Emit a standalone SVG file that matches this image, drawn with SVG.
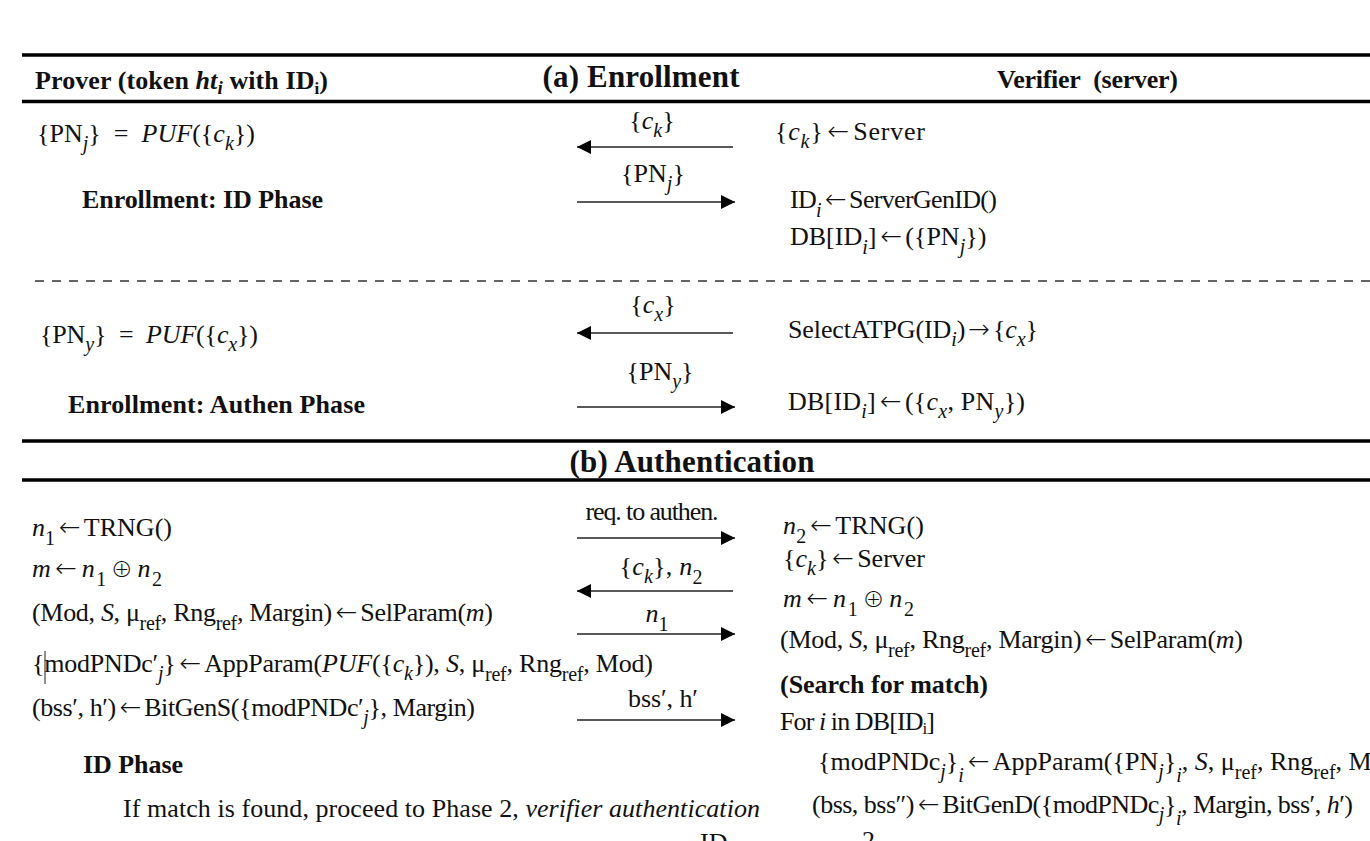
<svg xmlns="http://www.w3.org/2000/svg" width="1370" height="841" viewBox="0 0 1370 841">
  <style>
    .t { font-family: "Liberation Serif", "Times New Roman", "DejaVu Serif", serif; font-size: 26px; fill: #111; }
    .b { font-weight: bold; }
    .h { font-size: 31px; font-weight: bold; }
    .i { font-style: italic; }
    .s { font-size: 20px; }
    .op { font-family: "DejaVu Sans", sans-serif; font-weight: 200; font-style: normal; }
    .ox { font-family: "Noto Sans CJK JP", "DejaVu Sans", sans-serif; font-size: 22px; font-weight: 300; font-style: normal; }
    .rule { stroke: #000; stroke-width: 3.5; }
    .dash { stroke: #333; stroke-width: 1.5; stroke-dasharray: 9 8; }
    .msg { stroke: #222; stroke-width: 1.6; fill: none; marker-end: url(#ah); }
  </style>
  <defs>
    <marker id="ah" markerWidth="14" markerHeight="14" refX="14" refY="7" orient="auto" markerUnits="userSpaceOnUse">
      <path d="M0,0 L14,7 L0,14 z" fill="#000"/>
    </marker>
  </defs>
  <rect width="1370" height="841" fill="#fff"/>

  <!-- table rules -->
  <g id="rules">
    <line class="rule" x1="22" y1="55" x2="1370" y2="55"/>
    <line class="rule" x1="22" y1="101.5" x2="1370" y2="101.5"/>
    <line class="dash" x1="35" y1="281" x2="1370" y2="281"/>
    <line class="rule" x1="22" y1="441" x2="1370" y2="441"/>
    <line class="rule" x1="22" y1="480" x2="1370" y2="480"/>
  </g>

  <!-- column and section headings -->
  <g id="headings">
    <text class="t b" x="35" y="89" textLength="293">Prover (token <tspan class="i">ht</tspan><tspan class="i" font-size="19" dy="5">i</tspan><tspan dy="-5"> with ID</tspan><tspan font-size="17" dy="5">i</tspan><tspan dy="-5">)</tspan></text>
    <text class="t h" x="641" y="87" text-anchor="middle" textLength="197">(a) Enrollment</text>
    <text class="t b" x="997" y="88" textLength="181">Verifier&#160; (server)</text>
    <text class="t h" x="692" y="472" text-anchor="middle" textLength="245">(b) Authentication</text>
  </g>

  <!-- enrollment, ID phase: prover side -->
  <g id="enroll-id-prover">
    <text class="t" x="37" y="142" textLength="218">{PN<tspan class="s i" dy="8">j</tspan><tspan dy="-8">} &#160;= &#160;</tspan><tspan class="i">PUF</tspan>({<tspan class="i">c</tspan><tspan class="s i" dy="8">k</tspan><tspan dy="-8">})</tspan></text>
    <text class="t b" x="82" y="208" textLength="241">Enrollment: ID Phase</text>
  </g>

  <!-- enrollment, ID phase: verifier side -->
  <g id="enroll-id-verifier">
    <text class="t" x="775" y="140" textLength="150">{<tspan class="i">c</tspan><tspan class="s i" dy="8">k</tspan><tspan dy="-8">}</tspan><tspan class="op" dx="4">←</tspan><tspan dx="3">Server</tspan></text>
    <text class="t" x="790" y="208" textLength="207">ID<tspan class="s i" dy="9">i</tspan><tspan class="op" dy="-9" dx="4">←</tspan><tspan dx="3">ServerGenID()</tspan></text>
    <text class="t" x="790" y="245">DB[ID<tspan class="s i" dy="9">i</tspan><tspan dy="-9">]</tspan><tspan class="op" dx="4">←</tspan><tspan dx="3">({PN</tspan><tspan class="s i" dy="8">j</tspan><tspan dy="-8">})</tspan></text>
  </g>

  <!-- enrollment, authentication phase: prover side -->
  <g id="enroll-authen-prover">
    <text class="t" x="40" y="343" textLength="218">{PN<tspan class="s i" dy="8">y</tspan><tspan dy="-8">} &#160;= &#160;</tspan><tspan class="i">PUF</tspan>({<tspan class="i">c</tspan><tspan class="s i" dy="8">x</tspan><tspan dy="-8">})</tspan></text>
    <text class="t b" x="68" y="413" textLength="297">Enrollment: Authen Phase</text>
  </g>

  <!-- enrollment, authentication phase: verifier side -->
  <g id="enroll-authen-verifier">
    <text class="t" x="788" y="338" textLength="250">SelectATPG(ID<tspan class="s i" dy="8">i</tspan><tspan dy="-8">)</tspan><tspan class="op" dx="3">→</tspan><tspan dx="3">{</tspan><tspan class="i">c</tspan><tspan class="s i" dy="8">x</tspan><tspan dy="-8">}</tspan></text>
    <text class="t" x="788" y="410" textLength="237">DB[ID<tspan class="s i" dy="8">i</tspan><tspan dy="-8">]</tspan><tspan class="op" dx="4">←</tspan><tspan dx="3">({</tspan><tspan class="i">c</tspan><tspan class="s i" dy="8">x</tspan><tspan dy="-8">, PN</tspan><tspan class="s i" dy="8">y</tspan><tspan dy="-8">})</tspan></text>
  </g>

  <!-- authentication, ID phase: prover side -->
  <g id="auth-prover">
    <text class="t" x="32" y="536" textLength="140"><tspan class="i">n</tspan><tspan class="s" dy="9">1</tspan><tspan class="op" dy="-9" dx="4">←</tspan><tspan dx="3">TRNG()</tspan></text>
    <text class="t" x="32" y="577" textLength="130"><tspan class="i">m</tspan><tspan class="op" dx="3">←</tspan><tspan class="i" dx="3">n</tspan><tspan class="s" dy="9">1</tspan><tspan class="ox" dy="-9" dx="3">⊕</tspan><tspan class="i" dx="3">n</tspan><tspan class="s" dy="9">2</tspan></text>
    <text class="t" x="32" y="621" textLength="461">(Mod, <tspan class="i">S</tspan>, μ<tspan class="s" dy="9">ref</tspan><tspan dy="-9">, Rng</tspan><tspan class="s" dy="9">ref</tspan><tspan dy="-9">, Margin)</tspan><tspan class="op" dx="4">←</tspan><tspan dx="3">SelParam(</tspan><tspan class="i">m</tspan>)</text>
    <text class="t" x="32" y="672" textLength="621">{modPNDc′<tspan class="s i" dy="8">j</tspan><tspan dy="-8">}</tspan><tspan class="op" dx="4">←</tspan><tspan dx="3">AppParam(</tspan><tspan class="i">PUF</tspan>({<tspan class="i">c</tspan><tspan class="s i" dy="8">k</tspan><tspan dy="-8">}), </tspan><tspan class="i">S</tspan>, μ<tspan class="s" dy="9">ref</tspan><tspan dy="-9">, Rng</tspan><tspan class="s" dy="9">ref</tspan><tspan dy="-9">, Mod)</tspan></text>
    <line x1="45" y1="651" x2="45" y2="684" stroke="#222" stroke-width="1"/>
    <text class="t" x="32" y="716" textLength="443">(bss′, h′)<tspan class="op" dx="4">←</tspan><tspan dx="3">BitGenS({modPNDc′</tspan><tspan class="s i" dy="8">j</tspan><tspan dy="-8">}, Margin)</tspan></text>
    <text class="t b" x="83" y="773" textLength="100">ID Phase</text>
    <text class="t" x="123" y="817" textLength="637">If match is found, proceed to Phase 2, <tspan class="i">verifier authentication</tspan></text>
  </g>

  <!-- authentication, ID phase: verifier side -->
  <g id="auth-verifier">
    <text class="t" x="783" y="534" textLength="141"><tspan class="i">n</tspan><tspan class="s" dy="9">2</tspan><tspan class="op" dy="-9" dx="4">←</tspan><tspan dx="3">TRNG()</tspan></text>
    <text class="t" x="783" y="567" textLength="142">{<tspan class="i">c</tspan><tspan class="s i" dy="8">k</tspan><tspan dy="-8">}</tspan><tspan class="op" dx="4">←</tspan><tspan dx="3">Server</tspan></text>
    <text class="t" x="783" y="607" textLength="131"><tspan class="i">m</tspan><tspan class="op" dx="3">←</tspan><tspan class="i" dx="3">n</tspan><tspan class="s" dy="9">1</tspan><tspan class="ox" dy="-9" dx="3">⊕</tspan><tspan class="i" dx="3">n</tspan><tspan class="s" dy="9">2</tspan></text>
    <text class="t" x="780" y="648" textLength="463">(Mod, <tspan class="i">S</tspan>, μ<tspan class="s" dy="9">ref</tspan><tspan dy="-9">, Rng</tspan><tspan class="s" dy="9">ref</tspan><tspan dy="-9">, Margin)</tspan><tspan class="op" dx="4">←</tspan><tspan dx="3">SelParam(</tspan><tspan class="i">m</tspan>)</text>
    <text class="t b" x="780" y="693" textLength="208">(Search for match)</text>
    <text class="t" x="780" y="730" textLength="155">For <tspan class="i">i</tspan> in DB[ID<tspan font-size="17" dy="4">i</tspan><tspan dy="-4">]</tspan></text>
    <text class="t" x="818" y="770">{modPNDc<tspan class="s i" dy="8">j</tspan><tspan dy="-8">}</tspan><tspan class="s i" dy="12">i</tspan><tspan class="op" dy="-12" dx="4">←</tspan><tspan dx="3">AppParam({PN</tspan><tspan class="s i" dy="8">j</tspan><tspan dy="-8">}</tspan><tspan class="s i" dy="12">i</tspan><tspan dy="-12">, </tspan><tspan class="i">S</tspan>, μ<tspan class="s" dy="9">ref</tspan><tspan dy="-9">, Rng</tspan><tspan class="s" dy="9">ref</tspan><tspan dy="-9">, Mod)</tspan></text>
    <text class="t" x="812" y="813" textLength="541">(bss, bss″)<tspan class="op" dx="4">←</tspan><tspan dx="3">BitGenD({modPNDc</tspan><tspan class="s i" dy="8">j</tspan><tspan dy="-8">}</tspan><tspan class="s i" dy="12">i</tspan><tspan dy="-12">, Margin, bss′, </tspan><tspan class="i">h</tspan>′)</text>
    <text class="t" x="700" y="851">ID</text>
    <text class="t" x="862" y="849">2</text>
  </g>

  <!-- messages between prover and verifier -->
  <g id="connectors">
    <line class="msg" x1="733" y1="147" x2="577" y2="147"/>
    <line class="msg" x1="577" y1="202" x2="735" y2="202"/>
    <line class="msg" x1="733" y1="333" x2="577" y2="333"/>
    <line class="msg" x1="577" y1="407" x2="735" y2="407"/>
    <line class="msg" x1="577" y1="538" x2="735" y2="538"/>
    <line class="msg" x1="733" y1="591" x2="577" y2="591"/>
    <line class="msg" x1="577" y1="634" x2="735" y2="634"/>
    <line class="msg" x1="577" y1="720" x2="735" y2="720"/>
  </g>

  <!-- message labels -->
  <g id="message-labels">
    <text class="t" x="652" y="129" text-anchor="middle">{<tspan class="i">c</tspan><tspan class="s i" dy="8">k</tspan><tspan dy="-8">}</tspan></text>
    <text class="t" x="653" y="182" text-anchor="middle">{PN<tspan class="s i" dy="8">j</tspan><tspan dy="-8">}</tspan></text>
    <text class="t" x="653" y="313" text-anchor="middle">{<tspan class="i">c</tspan><tspan class="s i" dy="8">x</tspan><tspan dy="-8">}</tspan></text>
    <text class="t" x="660" y="380" text-anchor="middle">{PN<tspan class="s i" dy="8">y</tspan><tspan dy="-8">}</tspan></text>
    <text class="t" x="652" y="520" text-anchor="middle" textLength="133">req. to authen.</text>
    <text class="t" x="661" y="575" text-anchor="middle" textLength="83">{<tspan class="i">c</tspan><tspan class="s i" dy="8">k</tspan><tspan dy="-8">}, </tspan><tspan class="i">n</tspan><tspan class="s" dy="9">2</tspan></text>
    <text class="t" x="657" y="622" text-anchor="middle"><tspan class="i">n</tspan><tspan class="s" dy="9">1</tspan></text>
    <text class="t" x="663" y="707" text-anchor="middle" textLength="70">bss′, h′</text>
  </g>
</svg>
